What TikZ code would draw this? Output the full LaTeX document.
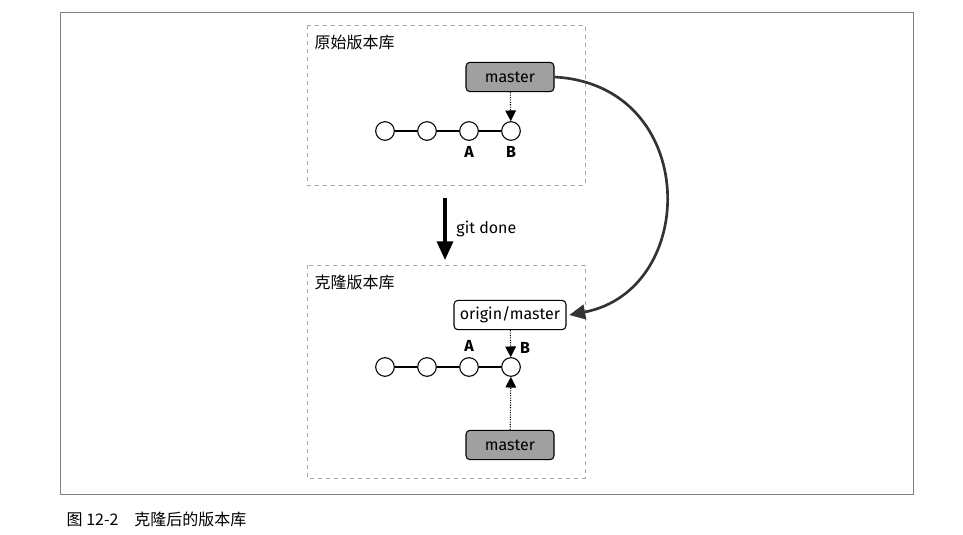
\documentclass[tikz,border=0pt]{standalone}
\usepackage{fontspec}
\setmainfont{Fira Sans}
\newfontfamily\cjk{Noto Sans CJK SC}
\usetikzlibrary{positioning,arrows.meta}
\definecolor{bgray}{RGB}{160,160,160}
\tikzset{
  commit/.style={circle,draw,thick,fill=white,minimum size=14pt,inner sep=0pt},
  refbox/.style={rectangle,draw,thick,rounded corners=3pt,minimum height=22pt,font=\large},
  ptr/.style={densely dotted,thick,-{Triangle[length=8pt,width=8pt]}},
  repo/.style={draw=black!35,dashed}
}
\begin{document}
\begin{tikzpicture}[x=0.75pt,y=-0.75pt]
  \useasboundingbox (0,0) rectangle (963,535);
  \draw[black!50] (60,12) rectangle (913,494);
  \node[anchor=west,font=\cjk\large] (cap) at (62,519) {图 12-2\quad 克隆后的版本库};
  % original repository
  \draw[repo] (307,25) rectangle (585,185);
  \node[anchor=north west,font=\cjk\large] (t1) at (310,30) {原始版本库};
  \foreach \i/\x in {1/385,2/427,3/469,4/511}
    \node[commit] (o\i) at (\x,131) {};
  \draw[thick] (o1) -- (o2) -- (o3) -- (o4);
  \node[below=1pt of o3,font=\large\bfseries] (oA) {A};
  \node[below=1pt of o4,font=\large\bfseries] (oB) {B};
  \node[refbox,fill=bgray,minimum width=66pt] (om) at (510,77) {master};
  \draw[ptr] (om) -- (o4);
  % git done
  \coordinate (gs) at (445,198);
  \coordinate (ge) at (445,260);
  \draw[line width=2.5pt,-{Triangle[length=14pt,width=12pt]}] (gs) -- (ge)
    node[midway,right=4pt,font=\large] (gd) {git done};
  % cloned repository
  \draw[repo] (307,265) rectangle (585,478);
  \node[anchor=north west,font=\cjk\large] (t2) at (310,270) {克隆版本库};
  \foreach \i/\x in {1/385,2/427,3/469,4/511}
    \node[commit] (c\i) at (\x,367) {};
  \draw[thick] (c1) -- (c2) -- (c3) -- (c4);
  \node[above=1pt of c3,font=\large\bfseries] (cA) {A};
  \node[above right=1pt and -2pt of c4,font=\large\bfseries] (cB) {B};
  \node[refbox,fill=white,minimum width=84pt] (oc) at (510,315) {origin/master};
  \node[refbox,fill=bgray,minimum width=66pt] (cm) at (510,445) {master};
  \draw[ptr] (oc) -- (c4);
  \draw[ptr] (cm) -- (c4);
  \draw[line width=2pt,black!80,-{Triangle[length=12pt,width=11pt]}]
    (om.east) .. controls (700,85) and (700,290) .. ([xshift=2pt]oc.east);
\end{tikzpicture}
\end{document}
